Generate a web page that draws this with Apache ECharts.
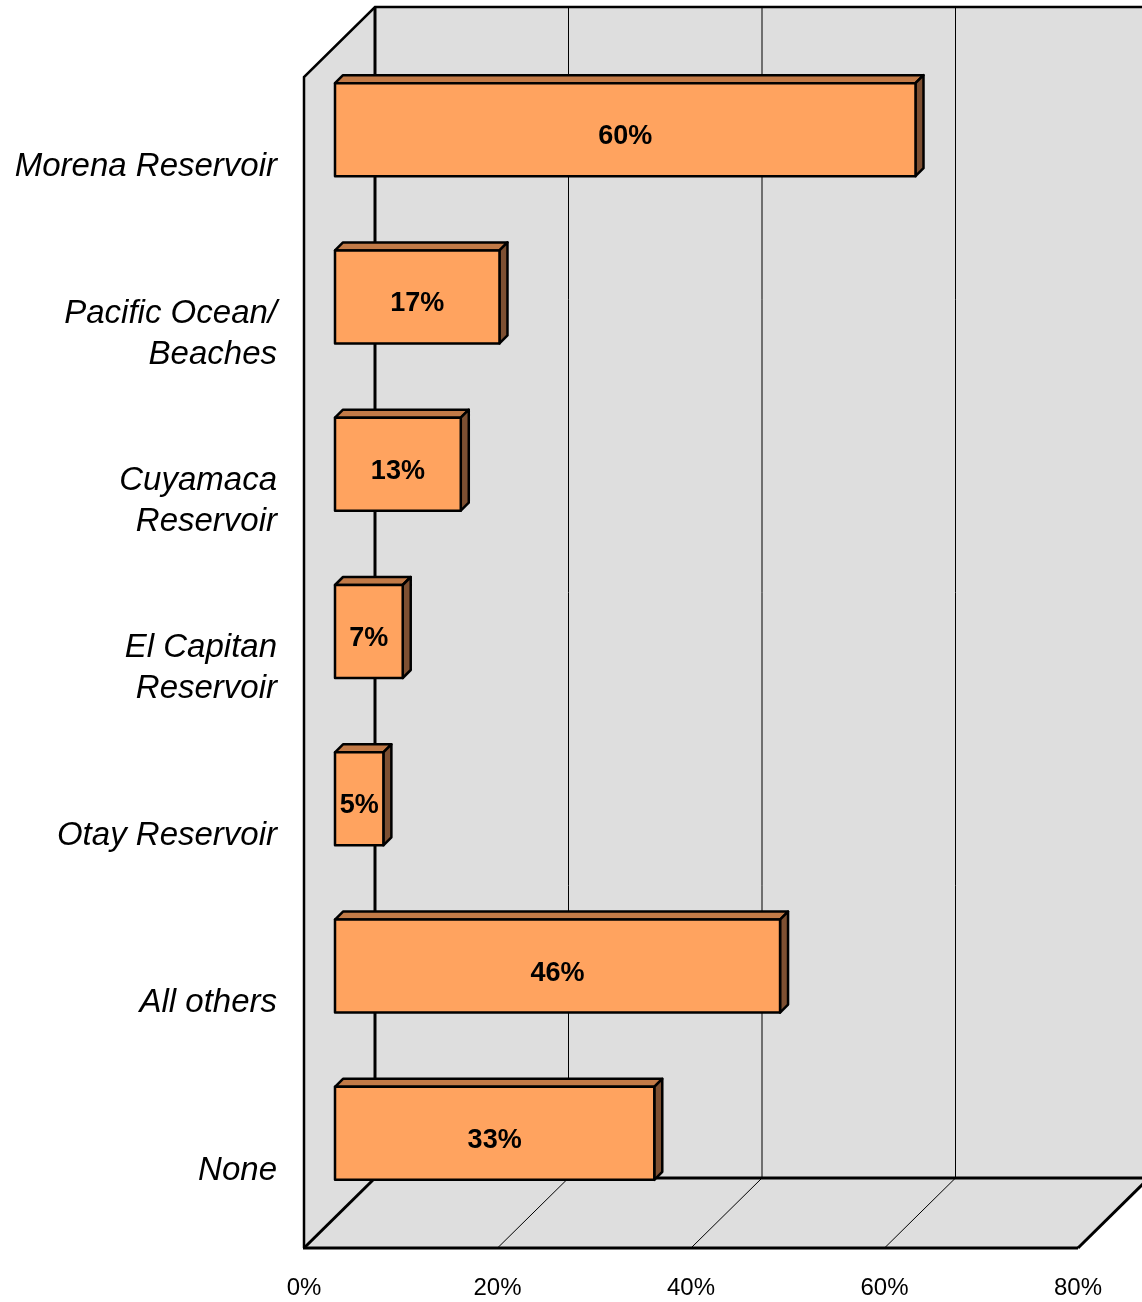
<!DOCTYPE html>
<html>
<head>
<meta charset="utf-8">
<script src="https://cdn.jsdelivr.net/npm/echarts@6/dist/echarts.min.js"></script>
<style>
  html, body { margin: 0; padding: 0; background: #fff; }
  #main { width: 1142px; height: 1302px; }
</style>
</head>
<body>
<div id="main"></div>
<script>
// data
var categories = [
  'Morena Reservoir',
  'Pacific Ocean/\nBeaches',
  'Cuyamaca\nReservoir',
  'El Capitan\nReservoir',
  'Otay Reservoir',
  'All others',
  'None'
];
var values = [60, 17, 13, 7, 5, 46, 33];
var xTicks = [0, 20, 40, 60, 80];

// 3D look (pixels)
var DEPTH_X = 71, DEPTH_Y = -70;   // wall depth
var BAR_X = 31, BAR_Y = -31;       // bar front face offset
var BAR_D = 8;                     // bar thickness
var BAR_RATIO = 0.556;

var chart = echarts.init(document.getElementById('main'));

function wallsRender(params, api) {
  var cs = params.coordSys;
  var L = cs.x, T = cs.y, R = cs.x + cs.width, B = cs.y + cs.height;
  var gray = '#DEDEDE';
  var kids = [];
  // back wall
  kids.push({ type: 'rect', shape: { x: L + DEPTH_X, y: T + DEPTH_Y, width: cs.width + 10, height: cs.height },
    style: { fill: gray } });
  // left wall
  kids.push({ type: 'polygon', shape: { points: [[L, T], [L + DEPTH_X, T + DEPTH_Y], [L + DEPTH_X, B + DEPTH_Y], [L, B]] },
    style: { fill: gray } });
  // floor
  kids.push({ type: 'polygon', shape: { points: [[L, B], [R, B], [R + DEPTH_X, B + DEPTH_Y], [L + DEPTH_X, B + DEPTH_Y]] },
    style: { fill: gray } });
  // grid lines on back wall and floor
  xTicks.forEach(function (v, i) {
    var x = api.coord([v, 0])[0];
    if (i > 0 && i < xTicks.length - 1) {
      kids.push({ type: 'line', shape: { x1: x + DEPTH_X, y1: T + DEPTH_Y, x2: x + DEPTH_X, y2: B + DEPTH_Y },
        style: { stroke: '#000', lineWidth: 1 } });
    }
    kids.push({ type: 'line', shape: { x1: x, y1: B, x2: x + DEPTH_X, y2: B + DEPTH_Y },
      style: { stroke: '#000', lineWidth: (i === 0 || i === xTicks.length - 1) ? 3 : 1 } });
  });
  // back 0 line
  kids.push({ type: 'line', shape: { x1: L + DEPTH_X, y1: T + DEPTH_Y, x2: L + DEPTH_X, y2: B + DEPTH_Y },
    style: { stroke: '#000', lineWidth: 3 } });
  // outline edges
  var edge = { stroke: '#000', lineWidth: 3 };
  kids.push({ type: 'polyline', shape: { points: [[L, B], [L, T], [L + DEPTH_X, T + DEPTH_Y], [R + DEPTH_X + 20, T + DEPTH_Y]] },
    style: { stroke: '#000', lineWidth: 2.5, fill: null } });
  kids.push({ type: 'line', shape: { x1: L - 1, y1: B, x2: R, y2: B }, style: edge });
  kids.push({ type: 'line', shape: { x1: L + DEPTH_X, y1: B + DEPTH_Y, x2: R + DEPTH_X + 20, y2: B + DEPTH_Y }, style: edge });
  return { type: 'group', children: kids };
}

function barRender(params, api) {
  var v = api.value(0), c = api.value(1);
  var p0 = api.coord([0, c]);
  var p1 = api.coord([v, c]);
  var h = api.size([0, 1])[1] * BAR_RATIO;
  var x0 = p0[0] + BAR_X, x1 = p1[0] + BAR_X;
  var y0 = p0[1] + BAR_Y - h / 2, y1 = p0[1] + BAR_Y + h / 2;
  var d = BAR_D;
  var line = { stroke: '#000', lineWidth: 2.5, lineJoin: 'round' };
  return {
    type: 'group',
    children: [
      { type: 'polygon', shape: { points: [[x0, y0], [x0 + d, y0 - d], [x1 + d, y0 - d], [x1, y0]] },
        style: Object.assign({ fill: '#C27A47' }, line) },
      { type: 'polygon', shape: { points: [[x1, y0], [x1 + d, y0 - d], [x1 + d, y1 - d], [x1, y1]] },
        style: Object.assign({ fill: '#7E5032' }, line) },
      { type: 'rect', shape: { x: x0, y: y0, width: x1 - x0, height: y1 - y0 },
        style: Object.assign({ fill: '#FFA35F' }, line) },
      { type: 'text', x: (x0 + x1) / 2, y: (y0 + y1) / 2 + 7,
        style: { text: v + '%', fill: '#000', font: 'bold 27px "Liberation Sans", Arial, sans-serif',
          align: 'center', verticalAlign: 'middle' } }
    ]
  };
}

var option = {
  animation: false,
  backgroundColor: '#fff',
  grid: [
    { left: 304, top: 77, right: 64, bottom: 54 },
    // label grid, nudged down a little so category names sit like the original
    { left: 304, top: 83, right: 64, bottom: 48 }
  ],
  xAxis: [
    {
      type: 'value',
      min: 0,
      max: 80,
      interval: 20,
      axisLine: { show: false },
      axisTick: { show: false },
      splitLine: { show: false },
      axisLabel: {
        formatter: '{value}%',
        margin: 28,
        color: '#000',
        fontSize: 24,
        fontFamily: '"Liberation Sans", Arial, sans-serif'
      }
    },
    { type: 'value', gridIndex: 1, min: 0, max: 80, show: false }
  ],
  yAxis: [
    {
      type: 'category',
      inverse: true,
      data: categories,
      axisLine: { show: false },
      axisTick: { show: false },
      splitLine: { show: false },
      axisLabel: { show: false }
    },
    {
      type: 'category',
      gridIndex: 1,
      inverse: true,
      data: categories,
      axisLine: { show: false },
      axisTick: { show: false },
      splitLine: { show: false },
      axisLabel: {
        margin: 27,
        color: '#000',
        fontSize: 33,
        fontStyle: 'italic',
        lineHeight: 41,
        fontFamily: '"Liberation Sans", Arial, sans-serif'
      }
    }
  ],
  series: [
    {
      type: 'custom',
      clip: false,
      silent: true,
      renderItem: wallsRender,
      data: [[0, 0]],
      z: 1
    },
    {
      type: 'custom',
      clip: false,
      renderItem: barRender,
      data: values.map(function (v, i) { return [v, i]; }),
      z: 2
    }
  ]
};

chart.setOption(option);
</script>
</body>
</html>
